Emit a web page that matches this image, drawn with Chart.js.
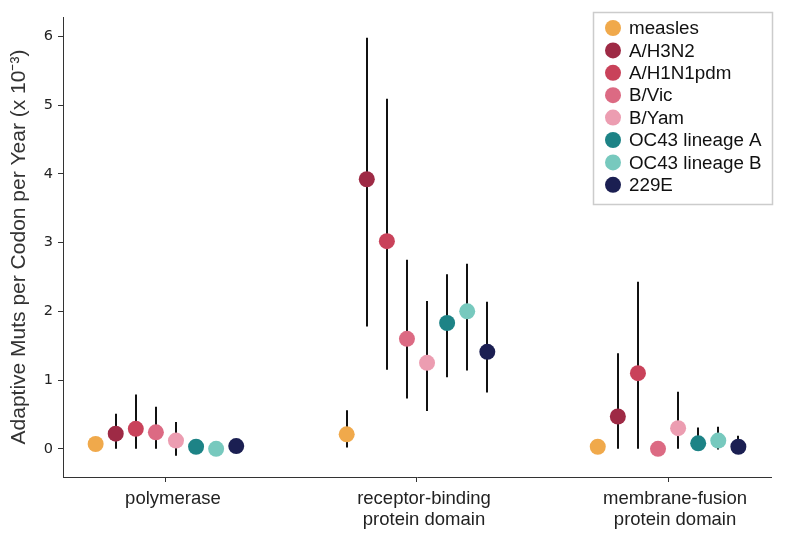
<!DOCTYPE html>
<html><head><meta charset="utf-8">
<script src="https://cdn.jsdelivr.net/npm/chart.js@4"></script>
<style>html,body{margin:0;padding:0;background:#fff}#wrap{width:792px;height:535px}</style>
</head><body><div id="wrap"><canvas id="c" width="792" height="535"></canvas></div>
<script>
const categories = ["polymerase", "receptor-binding protein domain", "membrane-fusion protein domain"];
const categoryLines = [["polymerase"], ["receptor-binding", "protein domain"], ["membrane-fusion", "protein domain"]];
const seriesNames = ["measles", "A/H3N2", "A/H1N1pdm", "B/Vic", "B/Yam", "OC43 lineage A", "OC43 lineage B", "229E"];
const seriesColors = ["#f0a94b", "#9e2a45", "#c9425a", "#dc6a83", "#ec9db1", "#1d8386", "#77c9be", "#1b1f52"];
const yTicks = [0, 1, 2, 3, 4, 5, 6];

// mean values per category [polymerase, receptor-binding, membrane-fusion]
const measles   = [0.07, 0.21, 0.03];
const h3n2      = [0.22, 3.92, 0.47];
const h1n1pdm   = [0.29, 3.02, 1.10];
const bvic      = [0.24, 1.60, 0.00];
const byam      = [0.12, 1.25, 0.30];
const oc43a     = [0.03, 1.83, 0.08];
const oc43b     = [0.00, 2.00, 0.12];
const e229      = [0.04, 1.41, 0.03];

// lower / upper bounds of error bars (null = no bar)
const measlesLo = [null, 0.02, null];  const measlesHi = [null, 0.56, null];
const h3n2Lo    = [0.00, 1.78, 0.00];  const h3n2Hi    = [0.51, 5.98, 1.39];
const h1n1Lo    = [0.00, 1.15, 0.00];  const h1n1Hi    = [0.79, 5.09, 2.43];
const bvicLo    = [0.00, 0.73, null];  const bvicHi    = [0.61, 2.75, null];
const byamLo    = [-0.10, 0.55, 0.00]; const byamHi    = [0.39, 2.15, 0.83];
const oc43aLo   = [null, 1.04, 0.00];  const oc43aHi   = [null, 2.54, 0.31];
const oc43bLo   = [null, 1.14, -0.01]; const oc43bHi   = [null, 2.69, 0.32];
const e229Lo    = [0.00, 0.82, 0.00];  const e229Hi    = [0.08, 2.14, 0.19];

const means = [measles, h3n2, h1n1pdm, bvic, byam, oc43a, oc43b, e229];
const lows  = [measlesLo, h3n2Lo, h1n1Lo, bvicLo, byamLo, oc43aLo, oc43bLo, e229Lo];
const highs = [measlesHi, h3n2Hi, h1n1Hi, bvicHi, byamHi, oc43aHi, oc43bHi, e229Hi];

const step = 0.08;
const offset = i => (i - 3.5) * step;

const datasets = seriesNames.map((name, i) => ({
  label: name,
  data: means[i].map((v, c) => ({x: c + offset(i), y: v})),
  backgroundColor: seriesColors[i],
  borderColor: seriesColors[i],
  pointRadius: 8,
  pointHoverRadius: 8,
  borderWidth: 0,
  showLine: false
}));

const errorBars = {
  id: 'errorBars',
  beforeDatasetsDraw(chart) {
    const {ctx, scales: {x, y}} = chart;
    ctx.save();
    ctx.strokeStyle = '#111';
    ctx.lineWidth = 2;
    seriesNames.forEach((n, i) => {
      categories.forEach((cat, c) => {
        const lo = lows[i][c], hi = highs[i][c];
        if (lo === null || hi === null) return;
        const px = Math.round(x.getPixelForValue(c + offset(i)));
        ctx.beginPath();
        ctx.moveTo(px, y.getPixelForValue(lo));
        ctx.lineTo(px, y.getPixelForValue(hi));
        ctx.stroke();
      });
    });
    ctx.restore();
  }
};

const boxLegend = {
  id: 'boxLegend',
  afterDraw(chart) {
    const ctx = chart.ctx;
    const x0 = 593, y0 = 12, w = 179, h = 192;
    ctx.save();
    ctx.fillStyle = '#fff';
    ctx.strokeStyle = '#cccccc';
    ctx.lineWidth = 1.5;
    ctx.beginPath();
    ctx.rect(x0 + 0.5, y0 + 0.5, w, h);
    ctx.fill();
    ctx.stroke();
    ctx.font = '18.8px "Liberation Sans", Arial, sans-serif';
    ctx.textBaseline = 'middle';
    seriesNames.forEach((n, i) => {
      const cy = y0 + 16 + i * 22.4;
      ctx.fillStyle = seriesColors[i];
      ctx.beginPath();
      ctx.arc(613, cy, 8, 0, Math.PI * 2);
      ctx.fill();
      ctx.fillStyle = '#111';
      ctx.fillText(n, 629, cy + 1);
    });
    ctx.restore();
  }
};

new Chart(document.getElementById('c'), {
  type: 'scatter',
  data: {datasets},
  plugins: [errorBars, boxLegend],
  options: {
    responsive: false,
    animation: false,
    devicePixelRatio: 1,
    layout: {padding: {top: 17, right: 21, left: 0, bottom: 0}},
    plugins: {legend: {display: false}, tooltip: {enabled: false}},
    scales: {
      x: {
        type: 'linear',
        min: -0.41, max: 2.41,
        afterBuildTicks: s => { s.ticks = [0, 1, 2].map(v => ({value: v})); },
        afterFit: s => { s.height = 58; },
        ticks: {
          autoSkip: false, maxRotation: 0,
          color: '#222',
          padding: 7,
          labelOffset: 7,
          font: {family: '"Liberation Sans", Arial, sans-serif', size: 18.5, lineHeight: 1.1},
          callback: v => categoryLines[v] || ''
        },
        grid: {drawOnChartArea: false, drawTicks: true, tickLength: 5, color: '#333'},
        border: {display: true, color: '#333', width: 1}
      },
      y: {
        type: 'linear',
        min: -0.41, max: 6.28,
        afterBuildTicks: s => { s.ticks = yTicks.map(v => ({value: v})); },
        afterFit: s => { s.width = 63; },
        ticks: {
          color: '#222', padding: 5,
          font: {family: '"DejaVu Sans", sans-serif', size: 14.5}
        },
        title: {
          display: true,
          text: 'Adaptive Muts per Codon per Year (x 10\u207B\u00B3)',
          color: '#333',
          font: {family: '"Liberation Sans", Arial, sans-serif', size: 21},
          padding: {top: 7, bottom: 0}
        },
        grid: {drawOnChartArea: false, drawTicks: true, tickLength: 5, color: '#333'},
        border: {display: true, color: '#333', width: 1}
      }
    }
  }
});
</script></body></html>
